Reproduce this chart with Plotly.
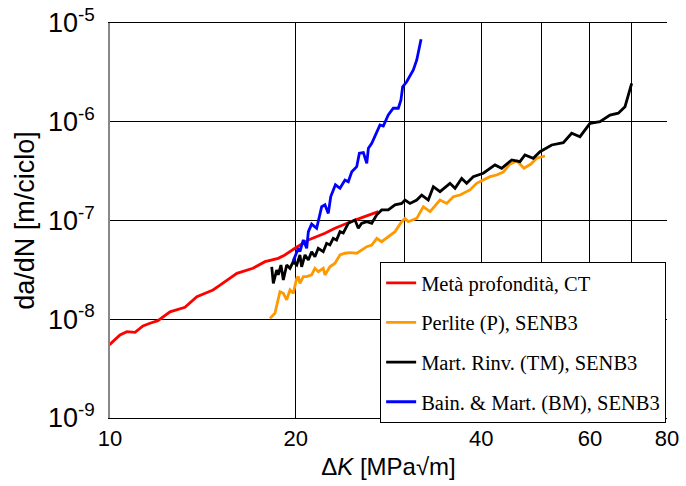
import math
import plotly.graph_objects as go

# ---- data ----
red_x = [9.89, 10.0, 10.38, 10.65, 10.98, 11.31, 11.61, 11.96, 12.51, 12.89, 13.23, 13.83, 14.69,
         15.08, 16.06, 17.05, 17.84, 18.74, 19.21, 19.95, 20.97, 22.31, 23.16, 24.96, 27.23]
red_y = [5.36e-9, 5.58e-9, 6.93e-9, 7.48e-9, 7.38e-9, 8.55e-9, 9.10e-9, 9.67e-9, 1.19e-8, 1.26e-8,
         1.32e-8, 1.69e-8, 1.98e-8, 2.22e-8, 2.92e-8, 3.28e-8, 3.83e-8, 4.14e-8, 4.48e-8, 5.23e-8,
         6.35e-8, 7.42e-8, 8.34e-8, 1.01e-7, 1.23e-7]

orange_x = [18.17, 18.51, 18.86, 19.10, 19.34, 19.58, 19.82, 20.08, 20.20, 20.32, 20.58, 20.84,
            21.23, 21.49, 21.76, 22.17, 22.31, 22.73, 23.16, 23.60, 24.04, 24.50, 25.12, 25.59,
            26.08, 26.57, 27.07, 27.57, 28.26, 28.98, 29.71, 30.08, 30.45, 31.43, 32.21, 33.03,
            34.28, 35.15, 36.03, 36.94, 38.34, 39.30, 40.29, 41.31, 42.35, 43.41, 44.52, 45.70,
            46.90, 48.14, 49.17, 50.74]
orange_y = [1.02e-8, 1.15e-8, 1.90e-8, 1.83e-8, 1.57e-8, 1.98e-8, 1.83e-8, 2.60e-8, 2.70e-8,
            2.31e-8, 2.70e-8, 2.70e-8, 2.81e-8, 3.28e-8, 3.03e-8, 3.28e-8, 2.81e-8, 3.40e-8,
            3.69e-8, 4.48e-8, 4.66e-8, 4.72e-8, 4.66e-8, 5.03e-8, 5.43e-8, 5.65e-8, 6.60e-8,
            6.10e-8, 6.86e-8, 7.71e-8, 9.72e-8, 1.05e-7, 9.72e-8, 1.05e-7, 1.38e-7, 1.23e-7,
            1.61e-7, 1.49e-7, 1.74e-7, 1.81e-7, 2.04e-7, 2.38e-7, 2.57e-7, 2.78e-7, 2.89e-7,
            3.10e-7, 3.73e-7, 4.01e-7, 3.38e-7, 3.73e-7, 4.27e-7, 4.50e-7]

black_x = [18.29, 18.40, 18.63, 18.74, 18.93, 19.10, 19.34, 19.58, 19.82, 20.08, 20.32, 20.45,
           20.71, 20.97, 21.23, 21.49, 21.76, 22.17, 22.45, 22.73, 23.01, 23.30, 23.60, 23.89,
           24.34, 24.96, 25.27, 25.59, 26.08, 26.57, 27.07, 27.57, 28.26, 28.98, 29.71, 30.08,
           30.65, 31.43, 32.02, 32.81, 33.44, 34.28, 35.58, 36.26, 37.17, 37.87, 38.81, 40.29,
           42.09, 43.15, 44.80, 46.20, 47.07, 48.56, 49.79, 51.05, 52.02, 54.32, 56.05, 57.81,
           60.01, 62.29, 64.66, 66.70, 68.39, 70.12]
black_y = [3.40e-8, 2.31e-8, 3.15e-8, 2.81e-8, 3.54e-8, 2.50e-8, 3.54e-8, 3.28e-8, 3.83e-8,
           3.54e-8, 4.48e-8, 3.40e-8, 4.48e-8, 3.98e-8, 4.83e-8, 4.30e-8, 5.23e-8, 4.83e-8,
           5.87e-8, 5.65e-8, 6.60e-8, 6.35e-8, 7.71e-8, 7.47e-8, 9.37e-8, 1.01e-7, 8.34e-8,
           9.37e-8, 9.72e-8, 9.37e-8, 1.14e-7, 1.28e-7, 1.28e-7, 1.44e-7, 1.49e-7, 1.61e-7,
           1.49e-7, 1.61e-7, 1.81e-7, 1.61e-7, 2.20e-7, 1.96e-7, 2.38e-7, 2.12e-7, 2.67e-7,
           2.38e-7, 2.78e-7, 3.01e-7, 3.65e-7, 3.38e-7, 4.10e-7, 3.94e-7, 4.61e-7, 4.27e-7,
           4.97e-7, 5.38e-7, 5.82e-7, 6.14e-7, 7.64e-7, 7.06e-7, 9.64e-7, 1.00e-6, 1.17e-6,
           1.22e-6, 1.42e-6, 2.45e-6]

blue_x = [19.82, 20.20, 20.32, 20.58, 20.84, 20.97, 21.23, 21.63, 22.04, 22.31, 22.59, 22.8,
          23.2, 23.6, 24.04, 24.34, 24.66, 25.12, 25.37, 25.75, 26.08, 26.24, 26.57, 27.07,
          27.40, 27.74, 28.26, 28.79, 29.34, 29.63, 29.82, 30.27, 31.03, 31.43, 31.94]
blue_y = [3.9e-8, 5.23e-8, 4.83e-8, 6.35e-8, 5.23e-8, 7.71e-8, 9.2e-8, 8.34e-8, 1.38e-7,
          1.44e-7, 1.18e-7, 1.75e-7, 2.3e-7, 2.12e-7, 2.57e-7, 2.47e-7, 3.12e-7, 3.51e-7,
          4.79e-7, 4.86e-7, 3.80e-7, 5.38e-7, 6.05e-7, 7.93e-7, 9.27e-7, 9.06e-7, 1.17e-6,
          1.37e-6, 1.37e-6, 1.66e-6, 2.26e-6, 2.54e-6, 3.34e-6, 4.22e-6, 6.84e-6]

series_names = ["Metà profondità, CT", "Perlite (P), SENB3",
                "Mart. Rinv. (TM), SENB3", "Bain. & Mart. (BM), SENB3"]

x_tick_vals = [10, 20, 30, 40, 50, 60, 70, 80]
x_tick_text = ["10", "20", "", "40", "", "60", "", "80"]
y_tick_vals = [1e-9, 1e-8, 1e-7, 1e-6, 1e-5]
y_tick_text = ["10<sup>-9</sup>", "10<sup>-8</sup>", "10<sup>-7</sup>",
               "10<sup>-6</sup>", "10<sup>-5</sup>"]

fig = go.Figure()
for i, (xs, ys, col) in enumerate([(red_x, red_y, "#ff0000"), (orange_x, orange_y, "#ff9900"),
                                   (black_x, black_y, "#000000"), (blue_x, blue_y, "#0000ff")]):
    fig.add_trace(go.Scatter(x=xs, y=ys, mode="lines", name=series_names[i],
                             legendgroup=f"g{i}",
                             line=dict(color=col, width=2.8)))

fig.update_layout(
    width=686, height=486,
    margin=dict(l=110, r=19, t=23, b=68),
    paper_bgcolor="white", plot_bgcolor="white",
    font=dict(family="Liberation Sans, Arial", color="black"),
    legend=dict(x=0.485, y=0.395, xanchor="left", yanchor="top",
                bgcolor="white", bordercolor="black", borderwidth=1,
                font=dict(family="Liberation Serif, Times New Roman", size=20.5, color="black"),
                tracegroupgap=10, itemwidth=30),
    xaxis=dict(type="log", range=[1, math.log10(80)], tickvals=x_tick_vals, ticktext=x_tick_text,
               showgrid=True, gridcolor="black", gridwidth=1.3, showline=True, linecolor="black",
               linewidth=1.3, mirror=True, ticks="", tickfont=dict(size=22), automargin=False,
               ticklabeloverflow="allow",
               title=dict(text="Δ<i>K</i> [MPa√m]", font=dict(size=24), standoff=8),
               zeroline=False),
    yaxis=dict(type="log", range=[-9, -5], tickvals=y_tick_vals, ticktext=y_tick_text,
               showgrid=True, gridcolor="black", gridwidth=1.3, showline=True, linecolor="#888888",
               linewidth=1.5, mirror=False, ticks="", tickfont=dict(size=27), automargin=False,
               ticklabelstandoff=8, ticklabeloverflow="allow",
               title=dict(text="da/dN [m/ciclo]", font=dict(size=27), standoff=6),
               zeroline=False),
)

# remove the browser's default 8px body margin so the figure fills the whole window
fig.write_html("out.html", config={"displayModeBar": False},
               post_script="document.body.style.margin='0';document.body.style.overflow='hidden';")
